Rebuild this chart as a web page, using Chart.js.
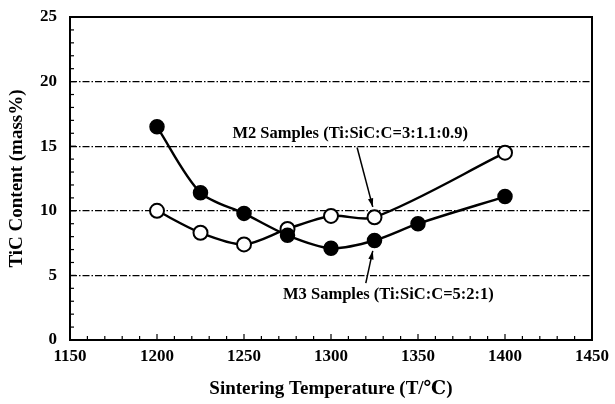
<!DOCTYPE html>
<html>
<head>
<meta charset="utf-8">
<script src="https://cdn.jsdelivr.net/npm/chart.js@4.4.0/dist/chart.umd.min.js"></script>
<style>
  html,body{margin:0;padding:0;background:#fff;}
  #wrap{width:615px;height:404px;}
</style>
</head>
<body>
<div id="wrap"><canvas id="graph-canvas"></canvas></div>
<script>
//----- data -----//
const temps   = [1200, 1225, 1250, 1275, 1300, 1325, 1350, 1400];
const m3Vals  = [16.5, 11.4, 9.8, 8.1, 7.1, 7.7, 9.0, 11.1];
const m2Temps = [1200, 1225, 1250, 1275, 1300, 1325, 1400];
const m2Vals  = [10.0, 8.3, 7.4, 8.6, 9.6, 9.5, 14.5];
const m2Label = 'M2 Samples (Ti:SiC:C=3:1.1:0.9)';
const m3Label = 'M3 Samples (Ti:SiC:C=5:2:1)';

const FONT = '"Liberation Serif", "DejaVu Serif", serif';

//----- frame, inward minor ticks and annotations -----//
const framePlugin = {
  id: 'frame',
  afterDraw(chart){
    const ctx = chart.ctx;
    const a = chart.chartArea;
    const xs = chart.scales.x, ys = chart.scales.y;
    ctx.save();
    ctx.strokeStyle = '#000';
    ctx.lineWidth = 1.2;
    //ticks on bottom axis (every 10)
    xs.ticks.forEach(t => {
      const px = xs.getPixelForValue(t.value);
      ctx.beginPath();
      ctx.moveTo(px, a.bottom);
      ctx.lineTo(px, a.bottom - (t.value % 50 === 0 ? 6 : 4));
      ctx.stroke();
    });
    //ticks on left axis (every 1)
    ys.ticks.forEach(t => {
      const py = ys.getPixelForValue(t.value);
      ctx.beginPath();
      ctx.moveTo(a.left, py);
      ctx.lineTo(a.left + (t.value % 5 === 0 ? 6 : 4), py);
      ctx.stroke();
    });
    //box
    ctx.lineWidth = 2;
    ctx.strokeRect(a.left, a.top, a.right - a.left, a.bottom - a.top);

    //annotation texts
    ctx.fillStyle = '#000';
    ctx.font = 'bold 16.5px ' + FONT;
    ctx.textAlign = 'center';
    ctx.textBaseline = 'middle';
    ctx.fillText(m2Label, xs.getPixelForValue(1311), ys.getPixelForValue(16.0));
    ctx.fillText(m3Label, xs.getPixelForValue(1333), ys.getPixelForValue(3.5));

    //arrows
    function arrow(x0, y0, x1, y1){
      ctx.lineWidth = 1.5;
      ctx.beginPath();
      ctx.moveTo(x0, y0);
      ctx.lineTo(x1, y1);
      ctx.stroke();
      const ang = Math.atan2(y1 - y0, x1 - x0);
      const len = 9, w = 0.3;
      ctx.beginPath();
      ctx.moveTo(x1, y1);
      ctx.lineTo(x1 - len*Math.cos(ang - w), y1 - len*Math.sin(ang - w));
      ctx.lineTo(x1 - len*Math.cos(ang + w), y1 - len*Math.sin(ang + w));
      ctx.closePath();
      ctx.fill();
    }
    arrow(xs.getPixelForValue(1315), ys.getPixelForValue(14.9),
          xs.getPixelForValue(1324), ys.getPixelForValue(10.3));
    arrow(xs.getPixelForValue(1320), ys.getPixelForValue(4.4),
          xs.getPixelForValue(1324), ys.getPixelForValue(6.9));
    ctx.restore();
  }
};

const canvas = document.getElementById('graph-canvas');
new Chart(canvas, {
  type: 'line',
  data: {
    datasets: [
      {
        label: 'M3',
        data: temps.map((t, i) => ({x: t, y: m3Vals[i]})),
        borderColor: '#000',
        borderWidth: 2.4,
        backgroundColor: '#000',
        pointBackgroundColor: '#000',
        pointBorderColor: '#000',
        pointRadius: 7,
        pointBorderWidth: 1.5,
        tension: 0.3,
        fill: false
      },
      {
        label: 'M2',
        data: m2Temps.map((t, i) => ({x: t, y: m2Vals[i]})),
        borderColor: '#000',
        borderWidth: 2.4,
        backgroundColor: '#fff',
        pointBackgroundColor: '#fff',
        pointBorderColor: '#000',
        pointRadius: 7,
        pointBorderWidth: 2,
        tension: 0.3,
        fill: false
      }
    ]
  },
  options: {
    responsive: true,
    maintainAspectRatio: false,
    animation: false,
    layout: {padding: {top: 17, right: 18, left: 6, bottom: 0}},
    plugins: {legend: {display: false}, tooltip: {enabled: false}},
    scales: {
      x: {
        type: 'linear',
        min: 1150, max: 1450,
        afterFit: s => { s.height = 64; },
        ticks: {
          stepSize: 10,
          autoSkip: false,
          maxRotation: 0,
          padding: 6,
          color: '#000',
          font: {family: FONT, size: 17, weight: 'bold'},
          callback: v => (v % 50 === 0 ? v : '')
        },
        grid: {display: false, drawTicks: false},
        border: {display: false},
        title: {
          display: true,
          text: 'Sintering Temperature (T/℃)',
          color: '#000',
          font: {family: FONT, size: 19, weight: 'bold'},
          padding: {top: 10}
        }
      },
      y: {
        type: 'linear',
        min: 0, max: 25,
        afterFit: s => { s.width = 64; s.paddingTop = 0; s.paddingBottom = 0; },
        ticks: {
          stepSize: 1,
          autoSkip: false,
          padding: 13,
          color: '#000',
          font: {family: FONT, size: 17, weight: 'bold'},
          callback: v => (v % 5 === 0 ? v : '')
        },
        grid: {
          drawTicks: false,
          color: ctx => (ctx.tick && ctx.tick.value % 5 === 0 && ctx.tick.value > 0 && ctx.tick.value < 25) ? '#000' : 'rgba(0,0,0,0)',
          lineWidth: 1.2
        },
        border: {display: false, dash: [7, 2, 1.5, 2]},
        title: {
          display: true,
          text: 'TiC Content (mass%)',
          color: '#000',
          font: {family: FONT, size: 19, weight: 'bold'},
          padding: {top: 0, bottom: 4}
        }
      }
    }
  },
  plugins: [framePlugin]
});
</script>
</body>
</html>
